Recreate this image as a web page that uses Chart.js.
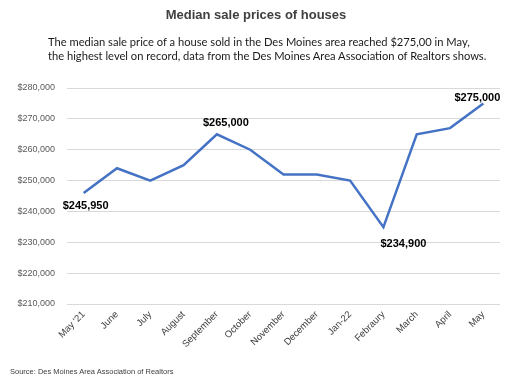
<!DOCTYPE html>
<html><head><meta charset="utf-8">
<script src="https://cdn.jsdelivr.net/npm/chart.js@4/dist/chart.umd.min.js"></script>
<style>
html,body{margin:0;padding:0;background:#fff;}
#wrap{position:relative;width:512px;height:388px;overflow:hidden;}
#c{position:absolute;left:0;top:0;}
.t{position:absolute;white-space:nowrap;}
#title{left:0;width:512px;text-align:center;top:7px;font:bold 13px "Liberation Sans",Arial,sans-serif;color:#404040;}
#sub1,#sub2{left:48px;font-family:Lato,sans-serif;font-size:12px;color:#1a1a1a;}
#sub1{top:35px;} #sub2{top:49px;}
#src{left:10px;top:367px;font-family:"Liberation Sans",Arial,sans-serif;font-size:7.5px;color:#404040;}
</style></head>
<body><div id="wrap">
<canvas id="c" width="512" height="388"></canvas>
<div class="t" id="title">Median sale prices of houses</div>
<div class="t" id="sub1">The median sale price of a house sold in the Des Moines area reached $275,00 in May,</div>
<div class="t" id="sub2">the highest level on record, data from the Des Moines Area Association of Realtors shows.</div>
<div class="t" id="src">Source: Des Moines Area Association of Realtors</div>
</div>
<script>
const categories = ["May '21","June","July","August","September","October","November","December","Jan-22","Febraury","March","April","May"];
const prices = [245950,254000,250000,255000,265000,260000,252000,252000,250000,234900,265000,267000,275000];
const yTicks = [210000,220000,230000,240000,250000,260000,270000,280000];
const labeledPoints = [0,4,9,12];

(function(){
  const s2=document.getElementById('sub2'); const s1=document.getElementById('sub1');
  const w=s2.offsetWidth; const fs=12*439/w;
  s1.style.fontSize=fs+'px'; s2.style.fontSize=fs+'px';
})();

const labelOffsets = {0:[2,13],4:[9,-11],9:[20,17],12:[-6,-5]};
const dataLabelPlugin = {
  id:'dl',
  afterDatasetsDraw(chart){
    const ctx=chart.ctx; const meta=chart.getDatasetMeta(0);
    ctx.save();
    ctx.font='bold 11px "Liberation Sans", Arial, sans-serif';
    ctx.fillStyle='#000'; ctx.textAlign='center'; ctx.textBaseline='middle';
    labeledPoints.forEach(i=>{
      const p=meta.data[i]; const o=labelOffsets[i];
      ctx.fillText('$'+prices[i].toLocaleString('en-US'), p.x+o[0], p.y+o[1]);
    });
    ctx.restore();
  }
};

new Chart(document.getElementById('c'),{
  type:'line',
  data:{labels:categories,datasets:[{data:prices,borderColor:'#4472C4',borderWidth:2.5,pointRadius:0,tension:0,fill:false}]},
  options:{
    responsive:false,animation:false,
    layout:{padding:{top:88,right:12,left:0,bottom:0}},
    plugins:{legend:{display:false},tooltip:{enabled:false}},
    scales:{
      x:{offset:true,grid:{display:false,drawTicks:false},border:{display:false},
        ticks:{maxRotation:45,minRotation:45,padding:5,color:'#404040',font:{family:'"Liberation Sans", Arial, sans-serif',size:9.5}},
        afterFit(s){s.height=84;}},
      y:{min:210000,max:280000,
        afterBuildTicks(s){s.ticks=yTicks.map(v=>({value:v}));},
        grid:{color:'#d9d9d9',drawTicks:false,lineWidth:1},border:{display:false},
        ticks:{padding:12,color:'#595959',font:{family:'"Liberation Sans", Arial, sans-serif',size:9},
          callback:v=>'$'+v.toLocaleString('en-US')},
        afterFit(s){s.width=67;}}
    }
  },
  plugins:[dataLabelPlugin]
});
</script>
</body></html>
